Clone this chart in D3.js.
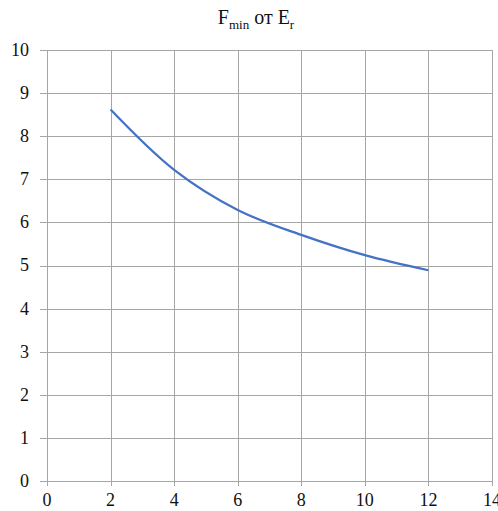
<!DOCTYPE html>
<html><head><meta charset="utf-8">
<script src="https://cdn.jsdelivr.net/npm/d3@7"></script>
<style>body{margin:0;background:#fff}svg{display:block}</style>
</head><body>
<script>
const xValues = [2, 4, 6, 8, 10, 12];
const yValues = [8.62, 7.22, 6.29, 5.71, 5.24, 4.89];
const xTicks = [0, 2, 4, 6, 8, 10, 12, 14];
const yTicks = [0, 1, 2, 3, 4, 5, 6, 7, 8, 9, 10];

const W = 498, H = 511;
const svg = d3.select("body").append("svg").attr("width", W).attr("height", H);
const x = d3.scaleLinear().domain([0, 14]).range([47, 492]);
const y = d3.scaleLinear().domain([0, 10]).range([481, 50]);
const font = "'Liberation Serif', 'Times New Roman', 'DejaVu Serif', serif";

// grid
svg.append("g").selectAll("line").data(yTicks).join("line")
  .attr("x1", 40).attr("x2", 492)
  .attr("y1", d => Math.round(y(d)) + 0.5).attr("y2", d => Math.round(y(d)) + 0.5)
  .attr("stroke", "#a6a6a6").attr("stroke-width", 1);
svg.append("g").selectAll("line").data(xTicks).join("line")
  .attr("y1", 50).attr("y2", 486)
  .attr("x1", d => Math.round(x(d)) + 0.5).attr("x2", d => Math.round(x(d)) + 0.5)
  .attr("stroke", "#a6a6a6").attr("stroke-width", 1);

// labels
svg.append("g").selectAll("text").data(yTicks).join("text")
  .attr("x", 29).attr("y", d => y(d)).attr("dy", "0.33em")
  .attr("text-anchor", "end").attr("font-family", font).attr("font-size", 18)
  .attr("fill", "#111").text(d => d);
svg.append("g").selectAll("text").data(xTicks).join("text")
  .attr("x", d => x(d)).attr("y", 506)
  .attr("text-anchor", "middle").attr("font-family", font).attr("font-size", 18)
  .attr("fill", "#111").text(d => d);

// line
const pts = xValues.map((v, i) => [v, yValues[i]]);
svg.append("path").datum(pts)
  .attr("d", d3.line().x(d => x(d[0])).y(d => y(d[1])).curve(d3.curveCatmullRom))
  .attr("fill", "none").attr("stroke", "#4472c4").attr("stroke-width", 2.25);

// title
const t = svg.append("text").attr("x", 256).attr("y", 24).attr("text-anchor", "middle")
  .attr("font-family", font).attr("font-size", 20).attr("fill", "#111");
t.append("tspan").text("F");
t.append("tspan").attr("font-size", 13).attr("dy", 5).text("min");
t.append("tspan").attr("dy", -5).text(" от E");
t.append("tspan").attr("font-size", 13).attr("dy", 5).text("r");
</script>
</body></html>
